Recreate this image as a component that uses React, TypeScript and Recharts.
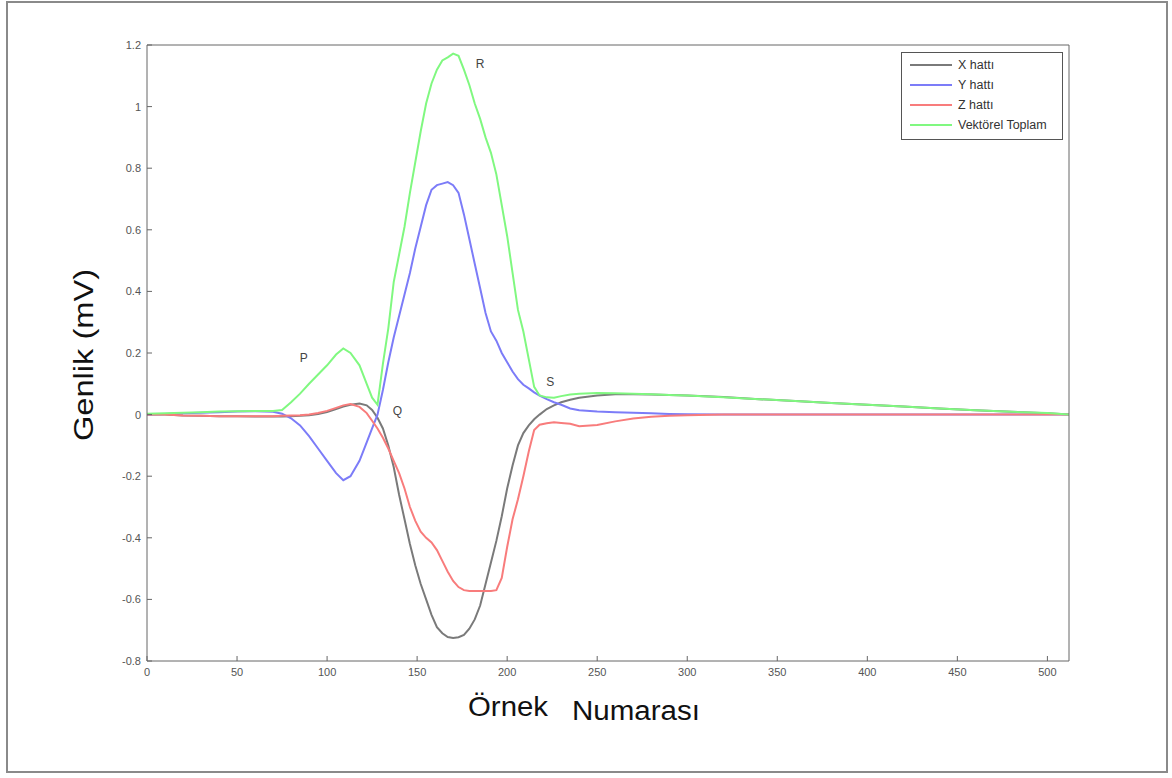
import { LineChart, Line, XAxis, YAxis, ReferenceDot, Label } from 'recharts';

const samples = [0, 10, 20, 30, 40, 50, 60, 70, 75, 80, 85, 90, 95, 100, 105, 109, 113, 118, 122, 125, 128, 131, 134, 137, 140, 143, 146, 149, 152, 155, 158, 161, 164, 167, 170, 173, 176, 179, 182, 185, 188, 191, 194, 197, 200, 203, 206, 209, 212, 215, 218, 222, 226, 230, 235, 240, 250, 260, 270, 280, 290, 300, 320, 340, 360, 380, 400, 420, 440, 460, 480, 500, 512];

const xLine = [0, 0, -0.003, -0.004, -0.005, -0.005, -0.006, -0.006, -0.006, -0.005, -0.004, -0.002, 0.002, 0.008, 0.018, 0.026, 0.032, 0.036, 0.03, 0.015, -0.01, -0.045, -0.1, -0.17, -0.26, -0.34, -0.42, -0.49, -0.55, -0.6, -0.65, -0.69, -0.71, -0.722, -0.725, -0.723, -0.715, -0.695, -0.665, -0.62, -0.55, -0.48, -0.41, -0.33, -0.24, -0.165, -0.1, -0.06, -0.035, -0.015, 0, 0.018, 0.03, 0.04, 0.048, 0.055, 0.062, 0.066, 0.066, 0.065, 0.064, 0.062, 0.057, 0.05, 0.044, 0.038, 0.032, 0.026, 0.02, 0.014, 0.009, 0.004, 0];

const yLine = [0, 0.002, 0.004, 0.006, 0.008, 0.01, 0.011, 0.009, 0.003, -0.012, -0.035, -0.07, -0.11, -0.15, -0.19, -0.213, -0.2, -0.15, -0.09, -0.045, 0, 0.08, 0.17, 0.25, 0.32, 0.39, 0.46, 0.54, 0.61, 0.68, 0.73, 0.745, 0.75, 0.755, 0.745, 0.72, 0.65, 0.57, 0.49, 0.41, 0.33, 0.27, 0.24, 0.2, 0.17, 0.14, 0.115, 0.097, 0.085, 0.072, 0.062, 0.05, 0.04, 0.032, 0.02, 0.014, 0.01, 0.008, 0.006, 0.004, 0.002, 0.001, 0, 0, 0, 0, 0, 0, 0, 0, 0, 0, 0];

const zLine = [0, 0, -0.003, -0.004, -0.005, -0.005, -0.005, -0.005, -0.004, -0.003, -0.002, 0, 0.005, 0.012, 0.022, 0.03, 0.034, 0.025, 0.005, -0.02, -0.045, -0.075, -0.11, -0.15, -0.19, -0.24, -0.3, -0.345, -0.38, -0.4, -0.415, -0.44, -0.475, -0.51, -0.54, -0.56, -0.57, -0.573, -0.573, -0.573, -0.573, -0.573, -0.57, -0.53, -0.43, -0.34, -0.275, -0.2, -0.12, -0.05, -0.033, -0.028, -0.025, -0.027, -0.03, -0.038, -0.034, -0.022, -0.013, -0.007, -0.004, -0.002, 0, 0, 0, 0, 0, 0, 0, 0, 0, 0, 0];

const vecSum = [0.003, 0.004, 0.006, 0.008, 0.01, 0.011, 0.012, 0.012, 0.015, 0.04, 0.068, 0.1, 0.13, 0.16, 0.195, 0.215, 0.2, 0.16, 0.1, 0.055, 0.032, 0.165, 0.28, 0.43, 0.52, 0.61, 0.72, 0.82, 0.92, 1.01, 1.075, 1.12, 1.15, 1.16, 1.172, 1.165, 1.12, 1.07, 1.01, 0.96, 0.9, 0.85, 0.78, 0.68, 0.58, 0.46, 0.34, 0.27, 0.18, 0.09, 0.062, 0.056, 0.055, 0.06, 0.065, 0.068, 0.07, 0.069, 0.068, 0.066, 0.064, 0.062, 0.056, 0.05, 0.044, 0.038, 0.032, 0.026, 0.02, 0.014, 0.009, 0.005, 0];

const xTicks = [0, 50, 100, 150, 200, 250, 300, 350, 400, 450, 500];
const yTicks = [-0.8, -0.6, -0.4, -0.2, 0, 0.2, 0.4, 0.6, 0.8, 1, 1.2];

const seriesNames = ['X hattı', 'Y hattı', 'Z hattı', 'Vektörel Toplam'];
const seriesKeys = ['x', 'y', 'z', 'v'];
const seriesColors = ['#7a7a7a', '#7c7cf8', '#f87c7c', '#80f880'];

const waveLabels = ['P', 'Q', 'R', 'S'];
const waveAt = [87, 139, 185, 224];
const waveLevel = [0.185, 0.013, 1.14, 0.107];

const rows = samples.map((s, i) => ({ s, x: xLine[i], y: yLine[i], z: zLine[i], v: vecSum[i] }));

const font = 'Arial, "Liberation Sans", sans-serif';
const tickStyle = { fontSize: 11, fill: '#555', fontFamily: font };

function LegendBox() {
  return (
    <div style={{ position: 'absolute', left: 901, top: 52, border: '1px solid #555', background: '#fff', width: 162, height: 88, padding: '2px 0 0 8px', boxSizing: 'border-box', fontFamily: font, fontSize: 12.5, color: '#333' }}>
      {seriesNames.map((name, i) => (
        <div key={name} style={{ display: 'flex', alignItems: 'center', height: 20, whiteSpace: 'nowrap' }}>
          <div style={{ width: 42, height: 2, background: seriesColors[i], marginRight: 6 }} />
          {name}
        </div>
      ))}
    </div>
  );
}

export default function App() {
  return (
    <div style={{ position: 'absolute', left: 0, top: 0, width: 1172, height: 778, background: '#fff' }}>
      <div style={{ position: 'absolute', left: 6, top: 1, width: 1162, height: 772, border: '2px solid #8a8a8a', boxSizing: 'border-box' }} />
      <LineChart width={1172} height={778} data={rows} margin={{ top: 44, right: 102, bottom: 87, left: 107 }} style={{ position: 'absolute', left: 0, top: 0 }}>
        <XAxis dataKey="s" type="number" domain={[0, 512]} ticks={xTicks} allowDataOverflow
          stroke="#666" tick={tickStyle} tickSize={-5} tickMargin={12} height={30}>
          <Label content={() => (
            <g fontFamily={font} fill="#111">
              <text x={468} y={716} fontSize={28} textLength={80} lengthAdjust="spacingAndGlyphs">Örnek</text>
              <text x={572} y={720} fontSize={27} textLength={128} lengthAdjust="spacingAndGlyphs">Numarası</text>
            </g>
          )} />
        </XAxis>
        <XAxis xAxisId="top" orientation="top" dataKey="s" type="number" domain={[0, 512]} ticks={xTicks} allowDataOverflow
          stroke="#666" tick={false} tickSize={-5} height={1} />
        <YAxis type="number" domain={[-0.8, 1.2]} ticks={yTicks} allowDataOverflow width={40}
          stroke="#666" tick={tickStyle} tickSize={-5} tickMargin={11}>
          <Label content={() => (
            <text x={0} y={0} transform="translate(93,355) rotate(-90)" textAnchor="middle" fontSize={28} fontFamily={font} fill="#111"
              textLength={172} lengthAdjust="spacingAndGlyphs">Genlik (mV)</text>
          )} />
        </YAxis>
        <YAxis yAxisId="right" orientation="right" type="number" domain={[-0.8, 1.2]} ticks={yTicks} allowDataOverflow
          stroke="#666" tick={false} tickSize={-5} width={1} />
        <Line xAxisId="top" yAxisId="right" dataKey="v" stroke="none" dot={false} legendType="none" isAnimationActive={false} />
        {seriesKeys.map((k, i) => (
          <Line key={k} dataKey={k} name={seriesNames[i]} type="linear" stroke={seriesColors[i]} strokeWidth={2} dot={false} isAnimationActive={false} />
        ))}
        {waveLabels.map((w, i) => (
          <ReferenceDot key={w} x={waveAt[i]} y={waveLevel[i]} r={0} stroke="none" fill="none"
            label={{ value: w, position: 'center', fill: '#444', fontSize: 12, fontFamily: font }} />
        ))}
      </LineChart>
      <LegendBox />
    </div>
  );
}
